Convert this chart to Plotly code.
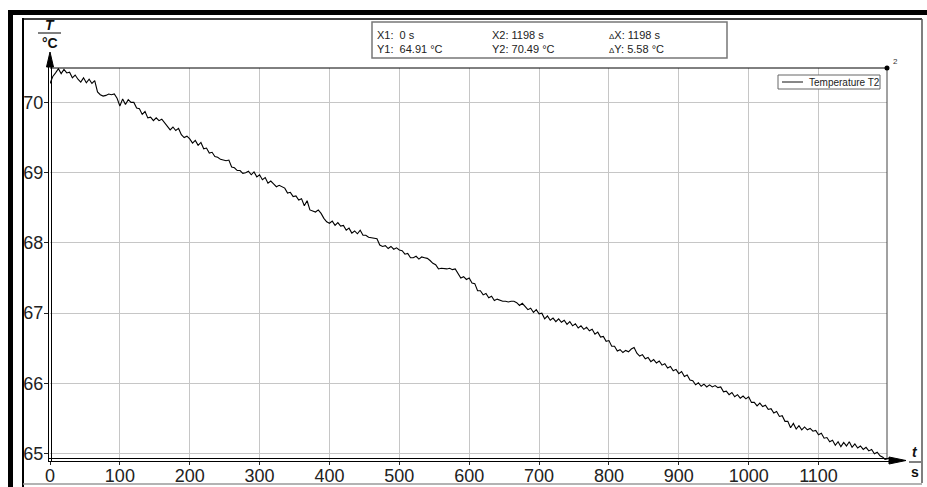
import plotly.graph_objects as go

# ---------------- data ----------------
SAMPLE_STEP_S = 4
temperature_t2 = [
    70.27, 70.37, 70.42, 70.48, 70.41, 70.47, 70.42, 70.43, 70.35, 70.39,
    70.33, 70.29, 70.35, 70.28, 70.33, 70.27, 70.31, 70.15, 70.11, 70.09,
    70.10, 70.12, 70.11, 70.12, 70.06, 69.95, 70.05, 69.97, 70.04, 70.00,
    70.00, 69.92, 69.91, 69.83, 69.87, 69.78, 69.79, 69.74, 69.78, 69.74,
    69.76, 69.71, 69.67, 69.61, 69.65, 69.60, 69.63, 69.54, 69.50, 69.52,
    69.48, 69.42, 69.46, 69.39, 69.43, 69.34, 69.35, 69.28, 69.29, 69.23,
    69.22, 69.19, 69.18, 69.17, 69.18, 69.08, 69.07, 69.03, 69.03, 68.99,
    69.00, 69.02, 68.97, 69.01, 68.94, 68.97, 68.90, 68.93, 68.85, 68.88,
    68.84, 68.80, 68.82, 68.80, 68.78, 68.71, 68.72, 68.66, 68.67, 68.61,
    68.63, 68.53, 68.60, 68.47, 68.45, 68.44, 68.47, 68.42, 68.35, 68.30,
    68.28, 68.31, 68.25, 68.29, 68.24, 68.25, 68.18, 68.21, 68.14, 68.17,
    68.13, 68.18, 68.11, 68.11, 68.08, 68.07, 68.07, 68.06, 67.97, 67.95,
    67.96, 67.92, 67.95, 67.91, 67.93, 67.90, 67.89, 67.84, 67.85, 67.79,
    67.79, 67.81, 67.77, 67.80, 67.79, 67.78, 67.75, 67.71, 67.69, 67.63,
    67.64, 67.63, 67.63, 67.64, 67.62, 67.63, 67.57, 67.50, 67.52, 67.48,
    67.50, 67.43, 67.42, 67.32, 67.32, 67.26, 67.28, 67.22, 67.24, 67.18,
    67.20, 67.18, 67.17, 67.17, 67.16, 67.17, 67.17, 67.15, 67.11, 67.14,
    67.10, 67.05, 67.07, 67.01, 67.05, 66.99, 67.00, 66.92, 66.96, 66.90,
    66.93, 66.88, 66.92, 66.87, 66.90, 66.84, 66.88, 66.82, 66.85, 66.79,
    66.82, 66.77, 66.80, 66.75, 66.77, 66.70, 66.73, 66.66, 66.67, 66.60,
    66.61, 66.53, 66.53, 66.46, 66.48, 66.44, 66.47, 66.45, 66.49, 66.51,
    66.43, 66.39, 66.41, 66.35, 66.37, 66.31, 66.34, 66.29, 66.32, 66.26,
    66.28, 66.22, 66.24, 66.18, 66.20, 66.14, 66.17, 66.10, 66.12, 66.05,
    66.04, 65.98, 66.01, 65.96, 65.99, 65.95, 65.98, 65.95, 65.97, 65.94,
    65.95, 65.88, 65.89, 65.84, 65.87, 65.81, 65.84, 65.79, 65.82, 65.78,
    65.81, 65.73, 65.73, 65.68, 65.72, 65.67, 65.69, 65.63, 65.64, 65.58,
    65.60, 65.53, 65.54, 65.46, 65.46, 65.37, 65.43, 65.35, 65.40, 65.34,
    65.38, 65.34, 65.36, 65.32, 65.33, 65.27, 65.29, 65.22, 65.23, 65.17,
    65.19, 65.12, 65.17, 65.10, 65.16, 65.11, 65.17, 65.09, 65.14, 65.08,
    65.11, 65.06, 65.09, 65.04, 65.06, 65.00, 65.02, 64.97, 64.95, 64.91,
]
time_s = [i * SAMPLE_STEP_S for i in range(len(temperature_t2))]
time_s.append(1198)
temperature_t2.append(64.91)

x_ticks = [0, 100, 200, 300, 400, 500, 600, 700, 800, 900, 1000, 1100]
y_ticks = [65, 66, 67, 68, 69, 70]
x_range = [0, 1198]
y_range = [64.91, 70.49]
series_name = "Temperature T2"
cursor_rows = [
    ["X1:  0 s", "X2: 1198 s", "<span style='font-size:8px'>Δ</span>X: 1198 s"],
    ["Y1:  64.91 °C", "Y2: 70.49 °C", "<span style='font-size:8px'>Δ</span>Y: 5.58 °C"],
]

# ---------------- layout geometry (pixels) ----------------
W, H = 927, 487
L, R, T, B = 50, 887, 68, 460
PW, PH = R - L, B - T


def px(x):
    return (x - L) / PW


def py(y):
    return (B - y) / PH


FONT = "Liberation Sans, Arial, sans-serif"

fig = go.Figure()
fig.add_trace(go.Scatter(
    x=time_s, y=temperature_t2, mode="lines", name=series_name,
    line=dict(color="#000000", width=1.1), showlegend=False,
))

shapes = []


def line(x0, y0, x1, y1, color="black", width=1):
    shapes.append(dict(type="line", xref="paper", yref="paper",
                       x0=px(x0), y0=py(y0), x1=px(x1), y1=py(y1),
                       line=dict(color=color, width=width), layer="above"))


def rect(x0, y0, x1, y1, color="black", width=1, fill="rgba(0,0,0,0)"):
    shapes.append(dict(type="rect", xref="paper", yref="paper",
                       x0=px(x0), y0=py(y0), x1=px(x1), y1=py(y1),
                       line=dict(color=color, width=width), fillcolor=fill, layer="above"))


def poly(points, color="black"):
    path = "M " + " L ".join(f"{px(a)},{py(b)}" for a, b in points) + " Z"
    shapes.append(dict(type="path", xref="paper", yref="paper", path=path,
                       fillcolor=color, line=dict(color=color, width=1), layer="above"))


# outer frame
line(10.5, 10, 10.5, 487, width=5)
line(8, 12.5, 927, 12.5, width=5)
line(23, 18, 23, 487, width=2)
line(22, 19, 922, 19, width=1.5)
line(922, 19, 922, 483, color="#555555", width=1.5)
line(23, 484, 922, 484, color="#9a9a9a", width=1.5)

# plot border top / right
line(L, T, R, T, width=1)
line(R, T, R, B, color="#444444", width=1)

# y axis (double line + arrow)
line(48.5, B + 2, 48.5, 64, width=1)
line(51.5, B + 2, 51.5, 64, width=1)
poly([(50, 52), (46.5, 67), (53.5, 67)])

# x axis (double line + arrow)
line(48, 458.5, 890, 458.5, width=1)
line(48, 461.5, 890, 461.5, width=1)
poly([(906, 460.5), (889, 457), (889, 464)])

# top-right marker
shapes.append(dict(type="circle", xref="paper", yref="paper",
                   x0=px(884.5), y0=py(65.5), x1=px(889.5), y1=py(70.5),
                   fillcolor="black", line=dict(color="black", width=0), layer="above"))

# axis unit fractions
line(38, 33, 61, 33, width=1)
line(909, 462, 921, 462, width=1)

# cursor info box
rect(372, 22, 727, 58, color="#777777", width=1.5, fill="white")

# legend box
rect(778, 75, 880, 89, color="#666666", width=1, fill="white")
line(782, 82, 803, 82, color="#111111", width=1)

annotations = []


def text(x, y, s, size=11, xanchor="left", color="#222222", bold=False, italic=False):
    if bold:
        s = f"<b>{s}</b>"
    if italic:
        s = f"<i>{s}</i>"
    annotations.append(dict(x=px(x), y=py(y), xref="paper", yref="paper", text=s,
                            showarrow=False, xanchor=xanchor, yanchor="middle",
                            font=dict(family=FONT, size=size, color=color)))


text(50, 25, "T", size=14, xanchor="center", color="#111111", bold=True, italic=True)
text(50, 43, "°C", size=14, xanchor="center", color="#111111", bold=True)
text(915, 452, "t", size=14, xanchor="center", color="#111111", bold=True, italic=True)
text(915, 472, "s", size=14, xanchor="center", color="#111111", bold=True)
text(891, 62, "2", size=8, color="#333333")

col_x = [375, 490, 607]
row_y = [35, 49]
for r, row in enumerate(cursor_rows):
    for c, s in enumerate(row):
        text(col_x[c], row_y[r], s, size=11)

text(807, 82, series_name, size=10)

fig.update_layout(
    width=W, height=H, autosize=False,
    margin=dict(l=L, r=W - R, t=T, b=H - B, pad=0),
    paper_bgcolor="white", plot_bgcolor="white",
    shapes=shapes, annotations=annotations,
    xaxis=dict(range=x_range, tickvals=x_ticks, ticks="outside", ticklen=4,
               tickcolor="#222222", showgrid=True, gridcolor="#c6c6c6", gridwidth=1,
               zeroline=False, showline=False, automargin=False,
               ticklabelstandoff=-5,
               tickfont=dict(family=FONT, size=18, color="#222222")),
    yaxis=dict(range=y_range, tickvals=y_ticks, ticks="outside", ticklen=5,
               tickcolor="#222222", showgrid=True, gridcolor="#c6c6c6", gridwidth=1,
               zeroline=False, showline=False, automargin=False,
               ticklabelstandoff=-3,
               tickfont=dict(family=FONT, size=18, color="#222222")),
    showlegend=False,
)

fig.write_html(
    "out.html",
    config={"displayModeBar": False},
    post_script="document.body.style.margin='0';document.body.style.overflow='hidden';",
)
